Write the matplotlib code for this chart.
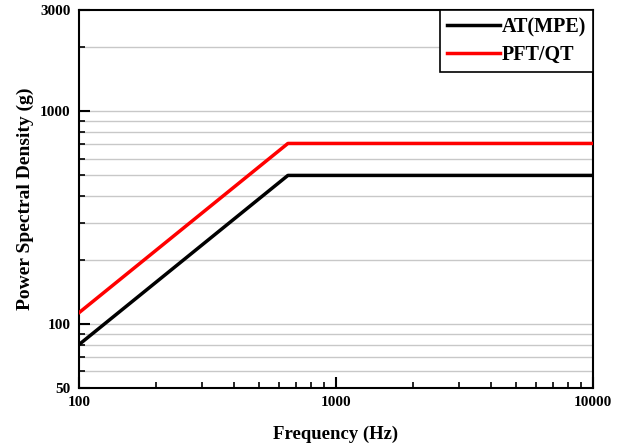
import matplotlib
matplotlib.use("Agg")
import matplotlib.pyplot as plt
from matplotlib.ticker import FixedLocator, NullFormatter, FixedFormatter

freq_at = [100, 650, 10000]
psd_at = [80, 500, 500]
freq_qt = [100, 650, 10000]
psd_qt = [113, 707, 707]
series_names = ["AT(MPE)", "PFT/QT"]
xticks = [100, 1000, 10000]
xticklabels = ["100", "1000", "10000"]
yticks = [50, 100, 1000, 3000]
yticklabels = ["50", "100", "1000", "3000"]

plt.rcParams['font.family'] = ['Liberation Serif', 'DejaVu Serif']
plt.rcParams['font.weight'] = 'bold'

fig = plt.figure(figsize=(6.18, 4.43), dpi=100)
ax = fig.add_axes([0.1278, 0.1242, 0.8317, 0.8532])

ax.plot(freq_at, psd_at, color='black', lw=2.5, label=series_names[0], zorder=3)
ax.plot(freq_qt, psd_qt, color='#ff0000', lw=2.5, label=series_names[1], zorder=3)

ax.set_xscale('log')
ax.set_yscale('log')
ax.set_xlim(100, 10000)
ax.set_ylim(50, 3000)

ax.xaxis.set_major_locator(FixedLocator(xticks))
ax.xaxis.set_major_formatter(FixedFormatter(xticklabels))
xminor = [m * d for d in (100, 1000) for m in range(2, 10)]
ax.xaxis.set_minor_locator(FixedLocator(xminor))
ax.xaxis.set_minor_formatter(NullFormatter())

ax.yaxis.set_major_locator(FixedLocator(yticks))
ax.yaxis.set_major_formatter(FixedFormatter(yticklabels))
yminor = [60, 70, 80, 90] + [m * 100 for m in range(2, 10)] + [2000]
ax.yaxis.set_minor_locator(FixedLocator(yminor))
ax.yaxis.set_minor_formatter(NullFormatter())

for y in yminor + [100, 1000]:
    ax.axhline(y, color='#c8c8c8', lw=1.0, zorder=1)

ax.tick_params(which='major', direction='in', length=8, width=1.5, labelsize=11, pad=6)
ax.tick_params(which='minor', direction='in', length=4, width=1.2)
for lab in ax.get_xticklabels() + ax.get_yticklabels():
    lab.set_fontweight('bold')
for s in ax.spines.values():
    s.set_linewidth(1.5)

ax.set_xlabel('Frequency (Hz)', fontsize=13.5, fontweight='bold', labelpad=12)
ax.set_ylabel('Power Spectral Density (g)', fontsize=14, fontweight='bold', labelpad=4)

leg = ax.legend(loc='upper right', bbox_to_anchor=(1.0, 1.0), fancybox=False,
                edgecolor='black', framealpha=1, borderaxespad=0,
                prop={'weight': 'bold', 'size': 14.5}, handlelength=2.6,
                handletextpad=0.1, borderpad=0.35, labelspacing=0.38)
leg.get_frame().set_linewidth(1.2)
for h in leg.get_lines():
    h.set_linewidth(2.5)

fig.savefig('out.png', dpi=100)
